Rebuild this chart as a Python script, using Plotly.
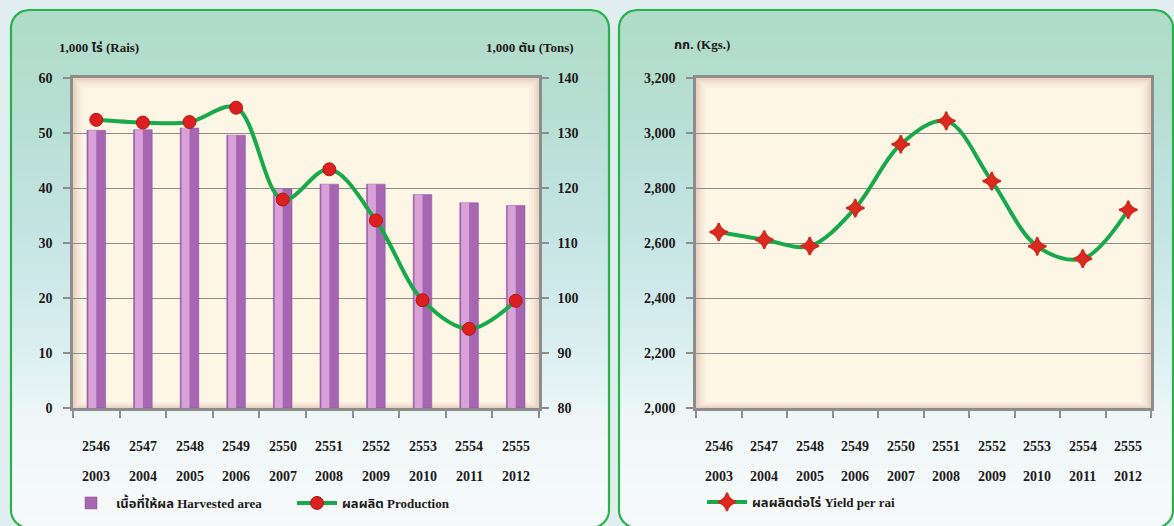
import math
import plotly.graph_objects as go

# ---------------- data ----------------
years_be = ["2546", "2547", "2548", "2549", "2550", "2551", "2552", "2553", "2554", "2555"]
years_ce = ["2003", "2004", "2005", "2006", "2007", "2008", "2009", "2010", "2011", "2012"]
harvested_area = [50.5, 50.6, 50.9, 49.6, 39.8, 40.7, 40.7, 38.8, 37.3, 36.8]      # 1,000 rai
production = [132.4, 131.9, 132.0, 134.6, 117.9, 123.4, 114.1, 99.6, 94.4, 99.5]    # 1,000 tons
yield_per_rai = [2640, 2612, 2589, 2727, 2959, 3044, 2825, 2588, 2543, 2721]       # kg

# ---------------- geometry helpers ----------------
W, H = 1174, 526


def px(x):
    return x / W


def py(y):
    return 1 - y / H


def hex2rgb(h):
    h = h.lstrip("#")
    return tuple(int(h[i:i + 2], 16) for i in (0, 2, 4))


def interp(stops, y):
    for (y0, c0), (y1, c1) in zip(stops[:-1], stops[1:]):
        if y0 <= y <= y1:
            t = (y - y0) / (y1 - y0) if y1 > y0 else 0
            a, b = hex2rgb(c0), hex2rgb(c1)
            return "rgb(%d,%d,%d)" % tuple(round(a[i] + (b[i] - a[i]) * t) for i in range(3))
    return stops[-1][1] if y > stops[-1][0] else stops[0][1]


def inset(y, top, bot, r):
    if y < top + r:
        d = top + r - y
        return r - math.sqrt(max(r * r - d * d, 0))
    if y > bot - r:
        d = y - (bot - r)
        return r - math.sqrt(max(r * r - d * d, 0))
    return 0.0


def band_path(x0, x1, top, bot, r, ya, yb):
    ys = []
    y = ya
    while y < yb:
        ys.append(y)
        y += 1
    ys.append(yb)
    left = [(x0 + inset(v, top, bot, r), v) for v in ys]
    right = [(x1 - inset(v, top, bot, r), v) for v in reversed(ys)]
    pts = left + right
    return "M" + "L".join(f"{px(a):.5f},{py(b):.5f}" for a, b in pts) + "Z"


shapes = []

panel_stops = [(10, "#afdcc8"), (110, "#b6dfd2"), (230, "#c4e4e3"), (340, "#d9eef0"),
               (420, "#eff7f7"), (530, "#f7fafa")]

panels = [(11, 609, 10, 528, 18), (619, 1173, 10, 528, 18)]
for (x0, x1, top, bot, r) in panels:
    step = 6
    y = top
    while y < bot:
        yb = min(y + step + 1, bot)
        shapes.append(dict(type="path", xref="paper", yref="paper", layer="below",
                           path=band_path(x0, x1, top, bot, r, y, yb),
                           fillcolor=interp(panel_stops, y + step / 2), line=dict(width=0)))
        y += step
    shapes.append(dict(type="path", xref="paper", yref="paper", layer="below",
                       path=band_path(x0, x1, top, bot, r, top, bot),
                       fillcolor="rgba(0,0,0,0)", line=dict(color="#27b24a", width=2.2)))

# plot-area backgrounds (inner shadow frame)
plot_boxes = [(73, 539, 78, 408), (696, 1151, 78, 408)]
shadow_cols = ["#ead3c2", "#f1dfcf", "#f6e9da", "#faf0e1", "#fdf6e5"]
for (x0, x1, y0, y1) in plot_boxes:
    for i, c in enumerate(shadow_cols):
        d = i * 2.5
        shapes.append(dict(type="rect", xref="paper", yref="paper", layer="below",
                           x0=px(x0 + d), x1=px(x1 - d), y0=py(y1 - d * 0.6), y1=py(y0 + d),
                           fillcolor=c, line=dict(width=0)))

# ---------------- figure ----------------
FONT = "Liberation Serif, Times New Roman, Noto Sans Thai, serif"
TXT = "#1e1a1a"
GRID = "#8d8d8d"

fig = go.Figure()

fig.add_trace(go.Bar(
    x=years_be, y=harvested_area, name="เนื้อที่ให้ผล Harvested area",
    xaxis="x", yaxis="y", width=0.4, legend="legend",
    marker=dict(color="#a766b1", line=dict(color="#8d4f99", width=0.5)),
))
fig.add_trace(go.Bar(
    x=years_be, y=harvested_area, showlegend=False, hoverinfo="skip",
    xaxis="x", yaxis="y", width=0.17, offset=-0.17,
    marker=dict(color="#d8a1d7", line=dict(width=0)),
))
fig.add_trace(go.Scatter(
    x=years_be, y=production, name="ผลผลิต Production",
    xaxis="x", yaxis="y2", mode="lines+markers", legend="legend",
    line=dict(color="#18a94b", width=4, shape="spline", smoothing=1.0),
    marker=dict(symbol="circle", size=13, color="#dc2020", line=dict(color="#b21515", width=1)),
))
fig.add_trace(go.Scatter(
    x=years_be, y=yield_per_rai, name="ผลผลิตต่อไร่ Yield per rai",
    xaxis="x2", yaxis="y3", mode="lines+markers", legend="legend2",
    line=dict(color="#18a94b", width=4, shape="spline", smoothing=1.0),
    marker=dict(symbol="star-diamond", size=13, color="#dc2a20", line=dict(color="#d02a1e", width=2)),
))

tickfont = dict(family=FONT, size=14, color=TXT, weight="bold")

xcommon = dict(type="category", range=[-0.5, 9.5], tickson="boundaries", ticks="outside",
               ticklen=7, tickcolor=GRID, tickwidth=1.5, showticklabels=False, showgrid=False,
               showline=True, linecolor=GRID, linewidth=2.5, mirror=True, zeroline=False,
               fixedrange=True, automargin=False)
ycommon = dict(ticks="outside", ticklen=7, tickcolor=GRID, tickwidth=1.5, showline=True,
               linecolor=GRID, linewidth=2.5, gridcolor=GRID, gridwidth=1.2, zeroline=False,
               tickfont=tickfont, fixedrange=True, automargin=False)

ydom = [py(408), py(78)]

fig.update_layout(
    width=W, height=H, autosize=False,
    margin=dict(l=0, r=0, t=0, b=0, pad=0, autoexpand=False),
    paper_bgcolor="#e1eef0",
    plot_bgcolor="rgba(0,0,0,0)",
    barmode="overlay",
    shapes=shapes,
    xaxis=dict(domain=[px(73), px(539)], anchor="y", **xcommon),
    yaxis=dict(domain=ydom, anchor="x", range=[0, 60], dtick=10, ticklabelstandoff=8, **ycommon),
    yaxis2=dict(overlaying="y", side="right", anchor="x", range=[80, 140], dtick=10,
                showgrid=False, ticklabelstandoff=6,
                **{k: v for k, v in ycommon.items() if k not in ("gridcolor", "gridwidth")}),
    xaxis2=dict(domain=[px(696), px(1151)], anchor="y3", **xcommon),
    yaxis3=dict(domain=ydom, anchor="x2", range=[2000, 3200], dtick=200, tickformat=",",
                ticklabelstandoff=8, mirror=True, **ycommon),
    legend=dict(orientation="h", x=px(66), xanchor="left", y=py(503), yanchor="middle",
                xref="container", yref="container",
                bgcolor="rgba(0,0,0,0)", font=dict(family=FONT, size=13, color=TXT, weight="bold"),
                entrywidth=171, entrywidthmode="pixels", itemwidth=40, traceorder="normal"),
    legend2=dict(orientation="h", x=px(702), xanchor="left", y=py(502), yanchor="middle",
                 xref="container", yref="container",
                 bgcolor="rgba(0,0,0,0)", font=dict(family=FONT, size=13, color=TXT, weight="bold"),
                 itemwidth=40),
    showlegend=True,
)

label_font = dict(family=FONT, size=14, color=TXT, weight="bold")
annotations = []
for xr in ("x", "x2"):
    for i, (be, ce) in enumerate(zip(years_be, years_ce)):
        annotations.append(dict(x=i, xref=xr, y=py(446), yref="paper", text=be, showarrow=False,
                                xanchor="center", yanchor="middle", font=label_font))
        annotations.append(dict(x=i, xref=xr, y=py(476), yref="paper", text=ce, showarrow=False,
                                xanchor="center", yanchor="middle", font=label_font))

title_font = dict(family=FONT, size=13, color=TXT, weight="bold")
annotations += [
    dict(x=px(57), xref="paper", y=py(47), yref="paper", xanchor="left", yanchor="middle",
         text="1,000 ไร่ (Rais)", showarrow=False, font=title_font),
    dict(x=px(576), xref="paper", y=py(47), yref="paper", xanchor="right", yanchor="middle",
         text="1,000 ตัน (Tons)", showarrow=False, font=title_font),
    dict(x=px(672), xref="paper", y=py(44), yref="paper", xanchor="left", yanchor="middle",
         text="กก. (Kgs.)", showarrow=False, font=title_font),
]
fig.update_layout(annotations=annotations)

fig.write_html("out.html", config={"displayModeBar": False},
               post_script="document.body.style.margin='0';document.body.style.overflow='hidden';")
